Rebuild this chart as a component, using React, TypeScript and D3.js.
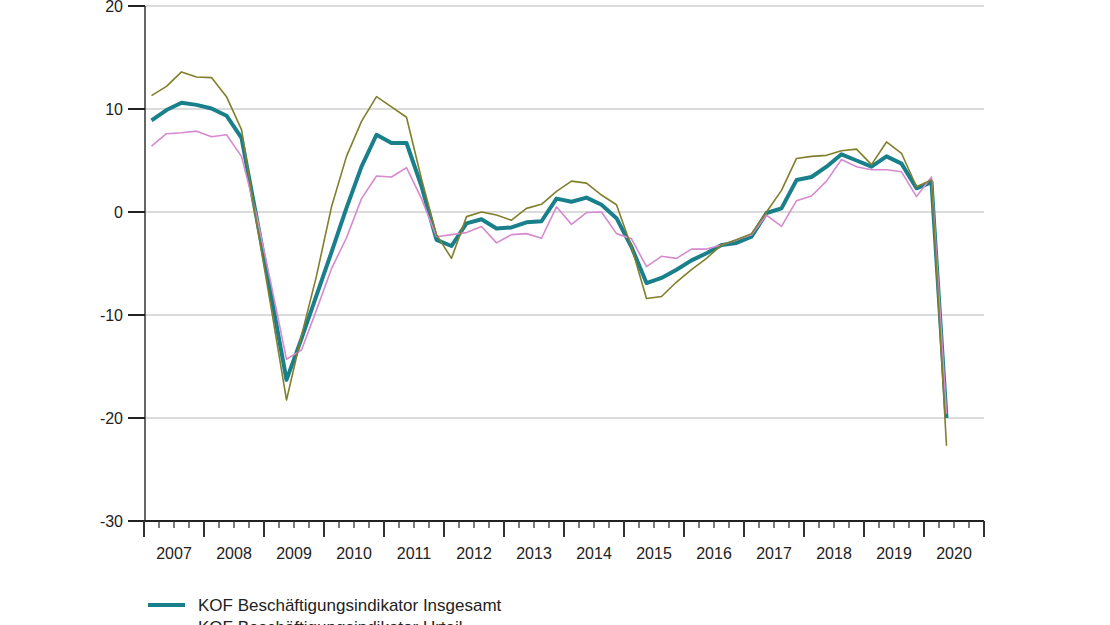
import React from "react";
import * as d3 from "d3";

const startYear = 2007;
const yearLabels = [2007, 2008, 2009, 2010, 2011, 2012, 2013, 2014, 2015, 2016, 2017, 2018, 2019, 2020];
const yTicks = [20, 10, 0, -10, -20, -30];

const insgesamt = [
  8.9, 9.9, 10.6, 10.4,
  10.05, 9.35, 7.2, -0.5,
  -8.3, -16.3, -12.3, -8.1,
  -3.9, 0.4, 4.4, 7.5,
  6.7, 6.7, 2.5, -2.7,
  -3.3, -1.1, -0.7, -1.6,
  -1.5, -1.0, -0.9, 1.3,
  1.0, 1.4, 0.7, -0.6,
  -3.4, -6.9, -6.4, -5.6,
  -4.7, -4.0, -3.2, -3.0,
  -2.4, -0.1, 0.35, 3.1,
  3.4, 4.4, 5.6, 5.0,
  4.4, 5.4, 4.7, 2.3,
  2.9, -20.0,
];

const urteil = [
  6.4, 7.6, 7.7, 7.85,
  7.3, 7.5, 5.4, -0.3,
  -7.2, -14.3, -13.4, -9.5,
  -5.5, -2.5, 1.3, 3.5,
  3.4, 4.3, 1.3, -2.4,
  -2.2, -2.0, -1.4, -3.0,
  -2.2, -2.1, -2.55, 0.5,
  -1.2, -0.05, 0.0, -2.1,
  -2.6, -5.3, -4.3, -4.5,
  -3.6, -3.6, -3.2, -2.7,
  -2.2, -0.3, -1.4, 1.1,
  1.55, 3.0, 5.1, 4.4,
  4.1, 4.1, 3.9, 1.5,
  3.4, -19.6,
];

const erwartung = [
  11.3, 12.2, 13.6, 13.1,
  13.05, 11.2, 8.0, -1.0,
  -9.5, -18.25, -12.0, -6.2,
  0.5, 5.4, 8.8, 11.2,
  10.2, 9.2, 3.2, -2.2,
  -4.5, -0.45, 0.0, -0.3,
  -0.8, 0.35, 0.75, 2.0,
  3.0, 2.8, 1.65, 0.7,
  -3.4, -8.4, -8.2, -6.8,
  -5.6, -4.5, -3.2, -2.7,
  -2.1, 0.0, 2.1, 5.2,
  5.4, 5.5, 5.95, 6.1,
  4.6, 6.8, 5.7, 2.45,
  3.1, -22.7,
];

const legendNames = ["KOF Beschäftigungsindikator Insgesamt", "KOF Beschäftigungsindikator Urteil"];

const TEAL = "#187f8b";
const PINK = "#d68ad0";
const OLIVE = "#7f7f2c";

export default function App() {
  const W = 1110;
  const H = 625;
  const x = d3.scaleLinear().domain([startYear, startYear + yearLabels.length]).range([144, 984]);
  const y = d3.scaleLinear().domain([-30, 20]).range([521, 6]);
  const qx = (i: number) => x(startYear + (i + 0.5) / 4);
  const line = d3
    .line<number>()
    .x((_, i) => qx(i))
    .y((d) => y(d));

  const quarterTicks = d3.range(0, yearLabels.length * 4 + 1).map((q) => startYear + q / 4);
  const font = "'Liberation Sans', Arial, sans-serif";

  return (
    <svg
      width={W}
      height={H}
      style={{ position: "absolute", left: 0, top: 0, background: "#fff" }}
      fontFamily={font}
    >
      {yTicks
        .filter((t) => t > -30)
        .map((t) => (
          <line key={"g" + t} x1={x(startYear) + 1} x2={x(startYear + yearLabels.length)} y1={y(t)} y2={y(t)} stroke="#cfcfcf" strokeWidth={1.5} />
        ))}
      <line x1={145} x2={145} y1={y(20)} y2={y(-30)} stroke="#333" strokeWidth={1.5} />
      {yTicks.map((t) => (
        <g key={"yt" + t}>
          <line x1={128} x2={145} y1={y(t)} y2={y(t)} stroke="#222" strokeWidth={2} />
          <text x={123} y={y(t)} dy="0.36em" textAnchor="end" fontSize={16} fill="#222">
            {t}
          </text>
        </g>
      ))}
      <line x1={x(startYear)} x2={x(startYear + yearLabels.length)} y1={y(-30)} y2={y(-30)} stroke="#222" strokeWidth={2} />
      {quarterTicks.map((t, i) => {
        const major = i % 4 === 0;
        return (
          <line
            key={"xt" + i}
            x1={x(t)}
            x2={x(t)}
            y1={y(-30)}
            y2={y(-30) + (major ? 16 : 7)}
            stroke="#333"
            strokeWidth={major ? 2 : 1.3}
          />
        );
      })}
      {yearLabels.map((yr) => (
        <text key={"yl" + yr} x={x(yr + 0.5)} y={559} textAnchor="middle" fontSize={16} fill="#222">
          {yr}
        </text>
      ))}
      <path d={line(insgesamt) || ""} fill="none" stroke={TEAL} strokeWidth={4} strokeLinejoin="round" />
      <path d={line(urteil) || ""} fill="none" stroke={PINK} strokeWidth={1.6} strokeLinejoin="round" />
      <path d={line(erwartung) || ""} fill="none" stroke={OLIVE} strokeWidth={1.6} strokeLinejoin="round" />
      <line x1={148} x2={185} y1={605} y2={605} stroke={TEAL} strokeWidth={4} />
      <text x={198} y={611} fontSize={17} fill="#222">
        {legendNames[0]}
      </text>
      <line x1={148} x2={185} y1={627} y2={627} stroke={PINK} strokeWidth={2} />
      <text x={198} y={633} fontSize={17} fill="#222">
        {legendNames[1]}
      </text>
    </svg>
  );
}
